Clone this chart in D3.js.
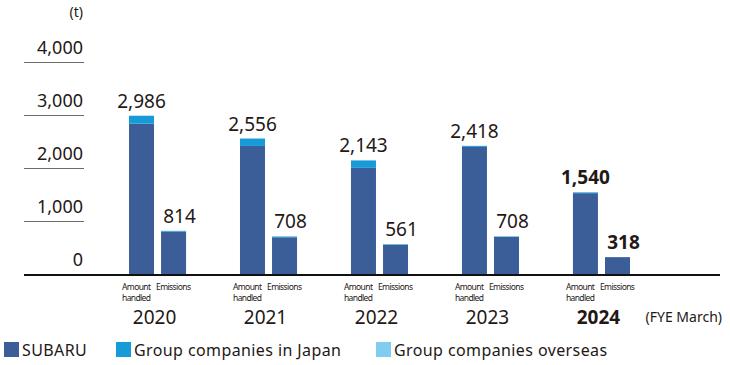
<!DOCTYPE html>
<html>
<head>
<meta charset="utf-8">
<script src="https://cdn.jsdelivr.net/npm/d3@7"></script>
<style>
  html, body { margin: 0; padding: 0; background: #fff; }
  svg { display: block; }
</style>
</head>
<body>
<div id="chart"></div>
<script>
const years = ['2020', '2021', '2022', '2023', '2024']
const kinds = ['amount', 'emissions']
const seriesNames = ['SUBARU', 'Group companies in Japan', 'Group companies overseas']

// stacked parts (t)
const subaruAmount = [2836, 2416, 2003, 2398, 1525]
const japanAmount = [150, 140, 140, 20, 15]
const overseasAmount = [0, 0, 0, 0, 0]
const subaruEmissions = [799, 693, 551, 698, 318]
const japanEmissions = [15, 15, 10, 10, 0]
const overseasEmissions = [0, 0, 0, 0, 0]

const amountTotals = [2986, 2556, 2143, 2418, 1540]
const emissionTotals = [814, 708, 561, 708, 318]
const yTicks = [0, 1000, 2000, 3000, 4000]

const COLORS = ['#3b5e98', '#169ad8', '#80cdf0']
const INK = '#231815'
const FONT = '"Noto Sans", "Open Sans", sans-serif'

const width = 730
const height = 365

const svg = d3.select('#chart').append('svg')
  .attr('width', width)
  .attr('height', height)

const y = d3.scaleLinear().domain([0, 4000]).range([274, 62])

const x = d3.scaleBand()
  .domain(years)
  .range([129, 630])
  .paddingInner(0.486)
  .paddingOuter(0)

const xSub = d3.scaleBand()
  .domain(kinds)
  .range([0, x.bandwidth()])
  .paddingInner(0.22)

// short grid lines + tick labels on the left
const axis = svg.append('g')
axis.selectAll('line')
  .data(yTicks.filter((t) => t > 0))
  .join('line')
  .attr('x1', 24)
  .attr('x2', 84)
  .attr('y1', (d) => y(d) + 0.5)
  .attr('y2', (d) => y(d) + 0.5)
  .attr('stroke', '#6b6b6b')
  .attr('stroke-width', 1)

axis.selectAll('text')
  .data(yTicks)
  .join('text')
  .attr('x', 83)
  .attr('y', (d) => y(d) - 8)
  .attr('text-anchor', 'end')
  .attr('font-family', FONT)
  .attr('font-size', 18)
  .attr('fill', INK)
  .text((d) => d3.format(',')(d))

svg.append('text')
  .attr('x', 83)
  .attr('y', 17)
  .attr('text-anchor', 'end')
  .attr('font-family', FONT)
  .attr('font-size', 14)
  .attr('fill', INK)
  .text('(t)')

// bars
const rows = []
years.forEach((yr, i) => {
  rows.push({ year: yr, kind: 'amount', parts: [subaruAmount[i], japanAmount[i], overseasAmount[i]] })
  rows.push({ year: yr, kind: 'emissions', parts: [subaruEmissions[i], japanEmissions[i], overseasEmissions[i]] })
})

const stackData = rows.map((r) => ({ year: r.year, kind: r.kind, s0: r.parts[0], s1: r.parts[1], s2: r.parts[2] }))
const stacked = d3.stack().keys(['s0', 's1', 's2'])(stackData)

const barG = svg.append('g')
barG.selectAll('g')
  .data(stacked)
  .join('g')
  .attr('fill', (d, i) => COLORS[i])
  .selectAll('rect')
  .data((d) => d)
  .join('rect')
  .attr('x', (d) => x(d.data.year) + xSub(d.data.kind))
  .attr('width', xSub.bandwidth())
  .attr('y', (d) => y(d[1]))
  .attr('height', (d) => Math.max(0, y(d[0]) - y(d[1])))

// baseline
svg.append('line')
  .attr('x1', 24)
  .attr('x2', 720)
  .attr('y1', y(0) + 1)
  .attr('y2', y(0) + 1)
  .attr('stroke', '#111')
  .attr('stroke-width', 2)

// value labels
const labels = svg.append('g')
  .attr('font-family', FONT)
  .attr('font-size', 19)
  .attr('fill', INK)

const lastYear = years[years.length - 1]

labels.selectAll('text.amt')
  .data(years)
  .join('text')
  .attr('class', 'amt')
  .attr('x', (d) => x(d) + xSub('amount') + xSub.bandwidth() / 2)
  .attr('y', (d, i) => y(amountTotals[i]) - 8)
  .attr('text-anchor', 'middle')
  .attr('font-weight', (d) => (d === lastYear ? 700 : 400))
  .text((d, i) => d3.format(',')(amountTotals[i]))

labels.selectAll('text.em')
  .data(years)
  .join('text')
  .attr('class', 'em')
  .attr('x', (d) => x(d) + xSub('emissions') + xSub.bandwidth() / 2 + 6)
  .attr('y', (d, i) => y(emissionTotals[i]) - 8)
  .attr('text-anchor', 'middle')
  .attr('font-weight', (d) => (d === lastYear ? 700 : 400))
  .text((d, i) => d3.format(',')(emissionTotals[i]))

// category captions under the baseline
const caps = svg.append('g')
  .attr('font-family', FONT)
  .attr('font-size', 8.5)
  .attr('fill', INK)

const capG = caps.selectAll('g')
  .data(years)
  .join('g')
  .attr('transform', (d) => `translate(${x(d)},0)`)

capG.append('text')
  .attr('x', -7)
  .attr('y', 289.5)
  .attr('textLength', 29)
  .text('Amount')
capG.append('text')
  .attr('x', -7)
  .attr('y', 301.3)
  .attr('textLength', 29)
  .text('handled')
capG.append('text')
  .attr('x', 27)
  .attr('y', 289.5)
  .attr('textLength', 35)
  .text('Emissions')

capG.append('text')
  .attr('x', x.bandwidth() / 2 - 3)
  .attr('y', 324)
  .attr('text-anchor', 'middle')
  .attr('font-size', 19)
  .attr('font-weight', (d) => (d === lastYear ? 700 : 400))
  .text((d) => d)

svg.append('text')
  .attr('x', 722)
  .attr('y', 322)
  .attr('text-anchor', 'end')
  .attr('font-family', FONT)
  .attr('font-size', 14)
  .attr('fill', INK)
  .text('(FYE March)')

// legend
const legendX = [4, 116, 376]
const legend = svg.append('g')
  .selectAll('g')
  .data(seriesNames)
  .join('g')
  .attr('transform', (d, i) => `translate(${legendX[i]},342)`)

legend.append('rect')
  .attr('width', 15)
  .attr('height', 15)
  .attr('fill', (d, i) => COLORS[i])

legend.append('text')
  .attr('x', 18)
  .attr('y', 14)
  .attr('font-family', FONT)
  .attr('font-size', 16)
  .attr('letter-spacing', 0.4)
  .attr('fill', INK)
  .text((d) => d)
</script>
</body>
</html>
